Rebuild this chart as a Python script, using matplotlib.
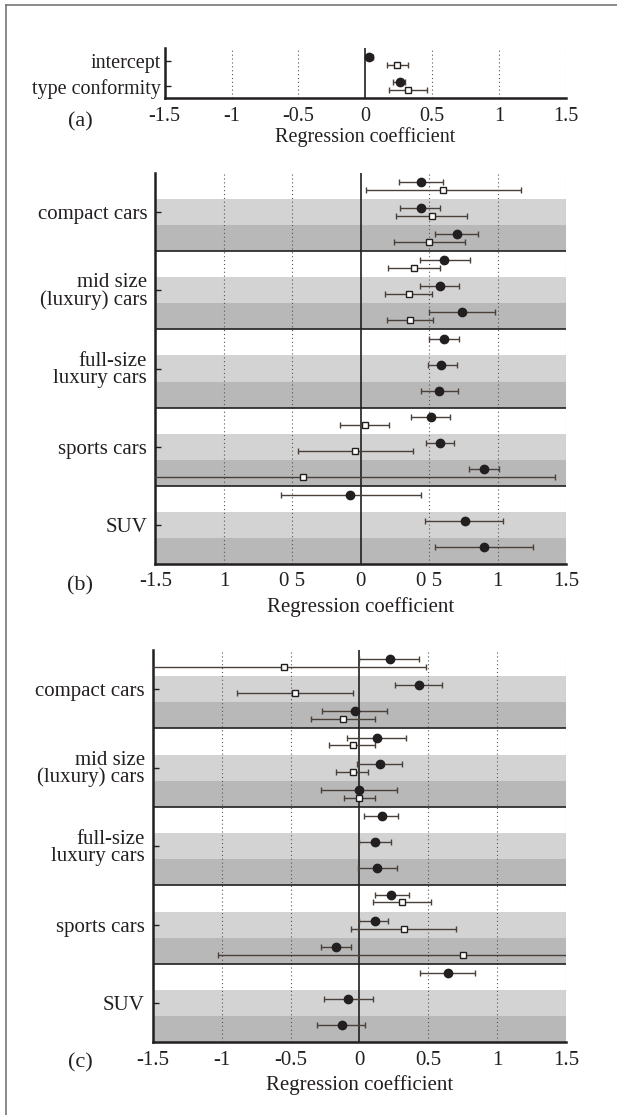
import numpy as np
import matplotlib
matplotlib.use('Agg')
import matplotlib.pyplot as plt
from matplotlib.lines import Line2D

plt.rcParams['font.family'] = ['Liberation Serif', 'DejaVu Serif']
plt.rcParams['font.size'] = 11

nan = np.nan
ink = '#231f20'
bar_col = '#4a403a'
light = '#d3d3d3'
dark = '#b8b8b8'

# panel (a)
a_labels = ['intercept', 'type conformity']
a_circ = [0.03, 0.26]
a_circ_lo = [0.005, 0.21]
a_circ_hi = [0.06, 0.30]
a_sq = [0.24, 0.32]
a_sq_lo = [0.16, 0.18]
a_sq_hi = [0.32, 0.46]

groups = ['compact cars', 'mid size\n(luxury) cars', 'full-size\nluxury cars', 'sports cars', 'SUV']

# panel (b)
b_circ = [0.44, 0.44, 0.70, 0.61, 0.58, 0.74, 0.61, 0.59, 0.57, 0.51, 0.58, 0.90, -0.08, 0.76, 0.90]
b_circ_lo = [0.28, 0.29, 0.54, 0.43, 0.43, 0.50, 0.50, 0.49, 0.44, 0.37, 0.48, 0.79, -0.58, 0.47, 0.54]
b_circ_hi = [0.60, 0.58, 0.86, 0.80, 0.72, 0.98, 0.72, 0.70, 0.71, 0.65, 0.68, 1.01, 0.44, 1.04, 1.26]
b_sq = [0.60, 0.52, 0.50, 0.39, 0.35, 0.36, nan, nan, nan, 0.03, -0.04, -0.42, nan, nan, nan]
b_sq_lo = [0.04, 0.26, 0.24, 0.20, 0.18, 0.19, nan, nan, nan, -0.15, -0.46, -2.26, nan, nan, nan]
b_sq_hi = [1.17, 0.78, 0.76, 0.58, 0.52, 0.53, nan, nan, nan, 0.21, 0.38, 1.42, nan, nan, nan]
b_ticklabels = ['-1.5', '1', '0 5', '0', '0 5', '1', '1.5']

# panel (c)
c_circ = [0.22, 0.43, -0.03, 0.13, 0.15, 0.00, 0.16, 0.11, 0.13, 0.23, 0.11, -0.17, 0.64, -0.08, -0.13]
c_circ_lo = [0.00, 0.26, -0.27, -0.09, -0.02, -0.28, 0.03, 0.00, -0.01, 0.11, 0.00, -0.28, 0.44, -0.26, -0.31]
c_circ_hi = [0.43, 0.60, 0.20, 0.34, 0.31, 0.27, 0.28, 0.23, 0.27, 0.36, 0.21, -0.06, 0.84, 0.10, 0.04]
c_sq = [-0.55, -0.47, -0.12, -0.05, -0.05, 0.00, nan, nan, nan, 0.31, 0.32, 0.75, nan, nan, nan]
c_sq_lo = [-1.57, -0.89, -0.35, -0.22, -0.17, -0.11, nan, nan, nan, 0.10, -0.06, -1.03, nan, nan, nan]
c_sq_hi = [0.48, -0.05, 0.11, 0.11, 0.06, 0.11, nan, nan, nan, 0.52, 0.70, 2.53, nan, nan, nan]

xticks = [-1.5, -1, -0.5, 0, 0.5, 1, 1.5]
xticklabels = ['-1.5', '-1', '-0.5', '0', '0.5', '1', '1.5']


def draw_points(ax, y, circ, clo, chi, sq, slo, shi):
    y = np.asarray(y, dtype=float)
    circ, clo, chi = map(np.asarray, (circ, clo, chi))
    sq, slo, shi = map(np.asarray, (sq, slo, shi))
    ax.errorbar(circ, y - 0.15, xerr=[circ - clo, chi - circ], fmt='o', ms=6,
                mfc=ink, mec=ink, ecolor=bar_col, elinewidth=1.0, capsize=2.5,
                capthick=1.0, zorder=4)
    ok = ~np.isnan(sq)
    ax.errorbar(sq[ok], y[ok] + 0.15, xerr=[sq[ok] - slo[ok], shi[ok] - sq[ok]],
                fmt='s', ms=4.5, mfc='white', mec=ink, mew=1.0, ecolor=bar_col,
                elinewidth=1.0, capsize=2.5, capthick=1.0, zorder=4)


def style_axes(ax, labels_x, fs=15, lpad=4):
    ax.set_xlim(-1.5, 1.5)
    ax.set_xticks(xticks)
    ax.set_xticklabels(labels_x)
    for v in xticks:
        if v != 0:
            ax.axvline(v, color='#555555', lw=0.8, ls=(0, (1, 2.5)), zorder=2)
    ax.axvline(0, color=ink, lw=1.2, zorder=3)
    for s in ['top', 'right']:
        ax.spines[s].set_visible(False)
    for s in ['left', 'bottom']:
        ax.spines[s].set_linewidth(1.8)
        ax.spines[s].set_color(ink)
    ax.tick_params(axis='y', direction='in', length=4, width=1, colors=ink, pad=6, labelsize=fs)
    ax.tick_params(axis='x', direction='in', length=0, colors=ink, pad=6, labelsize=fs)
    ax.set_xlabel('Regression coefficient', fontsize=fs, color=ink, labelpad=lpad)


def band_panel(ax, circ, clo, chi, sq, slo, shi, labels_x):
    n = len(circ)
    for i in range(n):
        k = i % 3
        if k == 1:
            ax.axhspan(i - 0.5, i + 0.5, color=light, lw=0, zorder=0)
        elif k == 2:
            ax.axhspan(i - 0.5, i + 0.5, color=dark, lw=0, zorder=0)
    for g in range(1, len(groups)):
        ax.axhline(3 * g - 0.5, color=ink, lw=1.2, zorder=3)
    draw_points(ax, np.arange(n), circ, clo, chi, sq, slo, shi)
    ax.set_ylim(n - 0.5, -0.5)
    ax.set_yticks([3 * g + 1 for g in range(len(groups))])
    ax.set_yticklabels(groups, linespacing=0.85)
    style_axes(ax, labels_x)


fig = plt.figure(figsize=(6.17, 11.15), dpi=100)

ax_a = fig.add_axes([0.2668, 0.9118, 0.6505, 0.0452])
draw_points(ax_a, [0, 1], a_circ, a_circ_lo, a_circ_hi, a_sq, a_sq_lo, a_sq_hi)
ax_a.set_ylim(1.48, -0.52)
ax_a.set_yticks([0, 1])
ax_a.set_yticklabels(a_labels)
style_axes(ax_a, xticklabels, fs=14.5, lpad=1)
ax_a.tick_params(axis='y', pad=3)

ax_b = fig.add_axes([0.2520, 0.4942, 0.6653, 0.3506])
band_panel(ax_b, b_circ, b_circ_lo, b_circ_hi, b_sq, b_sq_lo, b_sq_hi, b_ticklabels)

ax_c = fig.add_axes([0.2480, 0.0652, 0.6693, 0.3518])
band_panel(ax_c, c_circ, c_circ_lo, c_circ_hi, c_sq, c_sq_lo, c_sq_hi, xticklabels)

for lab, ypix in [('(a)', 122), ('(b)', 586), ('(c)', 1063)]:
    fig.text(80 / 617, 1 - ypix / 1115, lab, fontsize=16, color=ink, ha='center', va='center')

# page frame (top and left edge)
fig.add_artist(Line2D([6 / 617, 1], [1 - 5 / 1115, 1 - 5 / 1115], color='#777777', lw=1.2))
fig.add_artist(Line2D([6 / 617, 6 / 617], [0, 1 - 5 / 1115], color='#777777', lw=1.2))

fig.savefig('out.png', dpi=100)
